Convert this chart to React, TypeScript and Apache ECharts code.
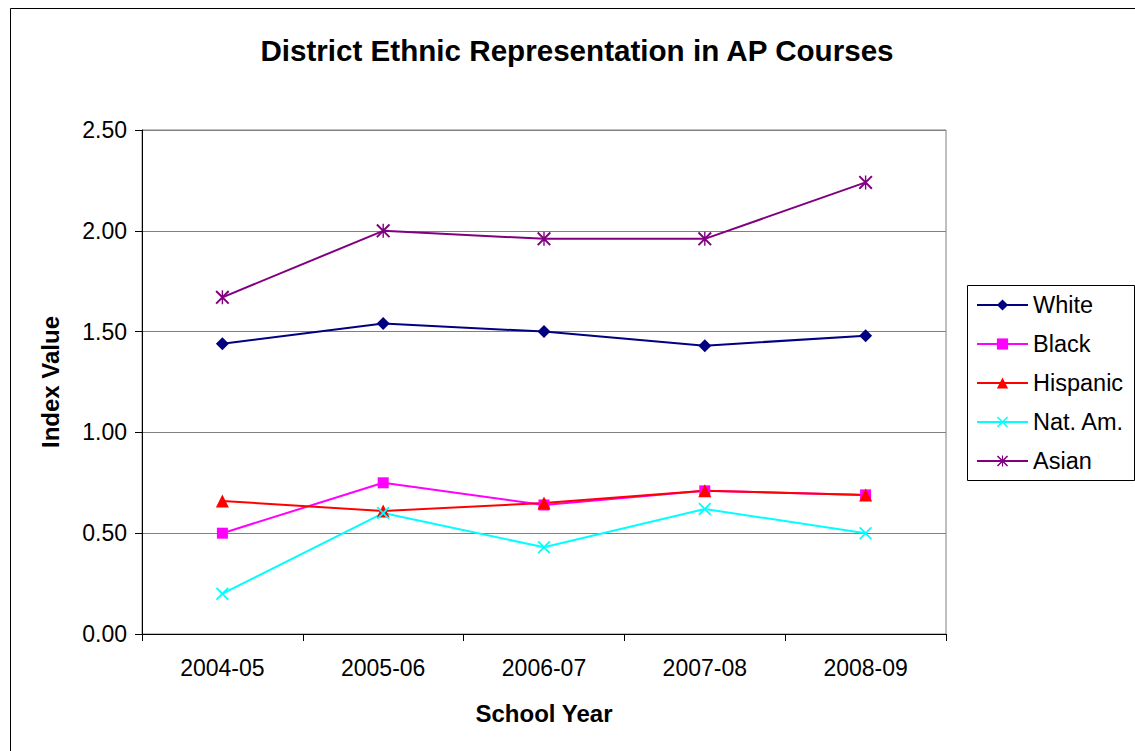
import React, { useEffect, useRef } from "react";
import * as echarts from "echarts";

const schoolYears = ["2004-05", "2005-06", "2006-07", "2007-08", "2008-09"];
const whiteIdx = [1.44, 1.54, 1.5, 1.43, 1.48];
const blackIdx = [0.5, 0.75, 0.64, 0.71, 0.69];
const hispanicIdx = [0.66, 0.61, 0.65, 0.71, 0.69];
const natAmIdx = [0.2, 0.6, 0.43, 0.62, 0.5];
const asianIdx = [1.67, 2.0, 1.96, 1.96, 2.24];

const FONT = "'Liberation Sans', Arial, sans-serif";

// Filled outlines for the cross and asterisk markers
const CROSS = "path://M0,2 L2,0 L20,18 L18,20 Z M18,0 L20,2 L2,20 L0,18 Z";
const STAR =
  "path://M0,2 L2,0 L20,18 L18,20 Z M18,0 L20,2 L2,20 L0,18 Z M9,0 L11,0 L11,20 L9,20 Z";

function lineSeries(name: string, data: number[], color: string, symbol: string, size: number) {
  return {
    name,
    type: "line",
    data,
    symbol,
    symbolSize: size,
    showAllSymbol: true,
    lineStyle: { color, width: 2 },
    itemStyle: { color, borderWidth: 0 },
    emphasis: { disabled: true },
  };
}

export default function App() {
  const ref = useRef<HTMLDivElement>(null);

  useEffect(() => {
    if (!ref.current) return;
    const chart = echarts.init(ref.current, null, { renderer: "svg" });
    chart.setOption({
      animation: false,
      backgroundColor: "#ffffff",
      textStyle: { fontFamily: FONT },
      graphic: [
        {
          type: "rect",
          shape: { x: 10.5, y: 8.5, width: 2000, height: 2000 },
          style: { fill: "none", stroke: "#000000", lineWidth: 1 },
          silent: true,
        },
        {
          type: "text",
          x: 577,
          y: 50,
          style: {
            text: "District Ethnic Representation in AP Courses",
            font: `bold 29.6px ${FONT}`,
            fill: "#000000",
            textAlign: "center",
            textVerticalAlign: "middle",
          },
        },
        {
          type: "rect",
          shape: { x: 967.5, y: 285.5, width: 167, height: 195 },
          style: { fill: "#ffffff", stroke: "#000000", lineWidth: 1 },
          z: 0,
          silent: true,
        },
      ],
      legend: {
        orient: "vertical",
        left: 976,
        top: 293,
        itemWidth: 51,
        itemHeight: 14,
        itemGap: 15,
        padding: 0,
        z: 5,
        textStyle: { fontSize: 23.5, color: "#000000", fontFamily: FONT },
        data: ["White", "Black", "Hispanic", "Nat. Am.", "Asian"],
      },
      grid: {
        left: 142,
        top: 130,
        width: 804,
        height: 504,
        show: true,
        borderColor: "#808080",
        borderWidth: 1,
        backgroundColor: "#ffffff",
      },
      xAxis: {
        type: "category",
        data: schoolYears,
        boundaryGap: true,
        name: "School Year",
        nameLocation: "middle",
        nameGap: 67,
        nameTextStyle: { fontSize: 24, fontWeight: "bold", color: "#000000" },
        axisLine: { lineStyle: { color: "#000000", width: 1 } },
        axisTick: { show: true, length: 7, lineStyle: { color: "#000000" } },
        axisLabel: { fontSize: 23, color: "#000000", margin: 22 },
        splitLine: { show: false },
      },
      yAxis: {
        type: "value",
        min: 0,
        max: 2.5,
        interval: 0.5,
        name: "Index Value",
        nameLocation: "middle",
        nameGap: 80,
        nameRotate: 90,
        nameTextStyle: { fontSize: 24, fontWeight: "bold", color: "#000000" },
        axisLine: { show: true, lineStyle: { color: "#000000", width: 1 } },
        axisTick: { show: true, length: 7, lineStyle: { color: "#000000" } },
        axisLabel: {
          fontSize: 23,
          color: "#000000",
          margin: 15,
          formatter: (v: number) => v.toFixed(2),
        },
        splitLine: { show: true, lineStyle: { color: "#808080", width: 1 } },
      },
      series: [
        lineSeries("White", whiteIdx, "#000080", "diamond", 13),
        lineSeries("Black", blackIdx, "#FF00FF", "rect", 11),
        lineSeries("Hispanic", hispanicIdx, "#FF0000", "triangle", 13),
        lineSeries("Nat. Am.", natAmIdx, "#00FFFF", CROSS, 13),
        lineSeries("Asian", asianIdx, "#800080", STAR, 14),
      ],
    });
    return () => chart.dispose();
  }, []);

  return (
    <div
      ref={ref}
      style={{ position: "fixed", left: 0, top: 0, width: 1135, height: 751 }}
    />
  );
}
